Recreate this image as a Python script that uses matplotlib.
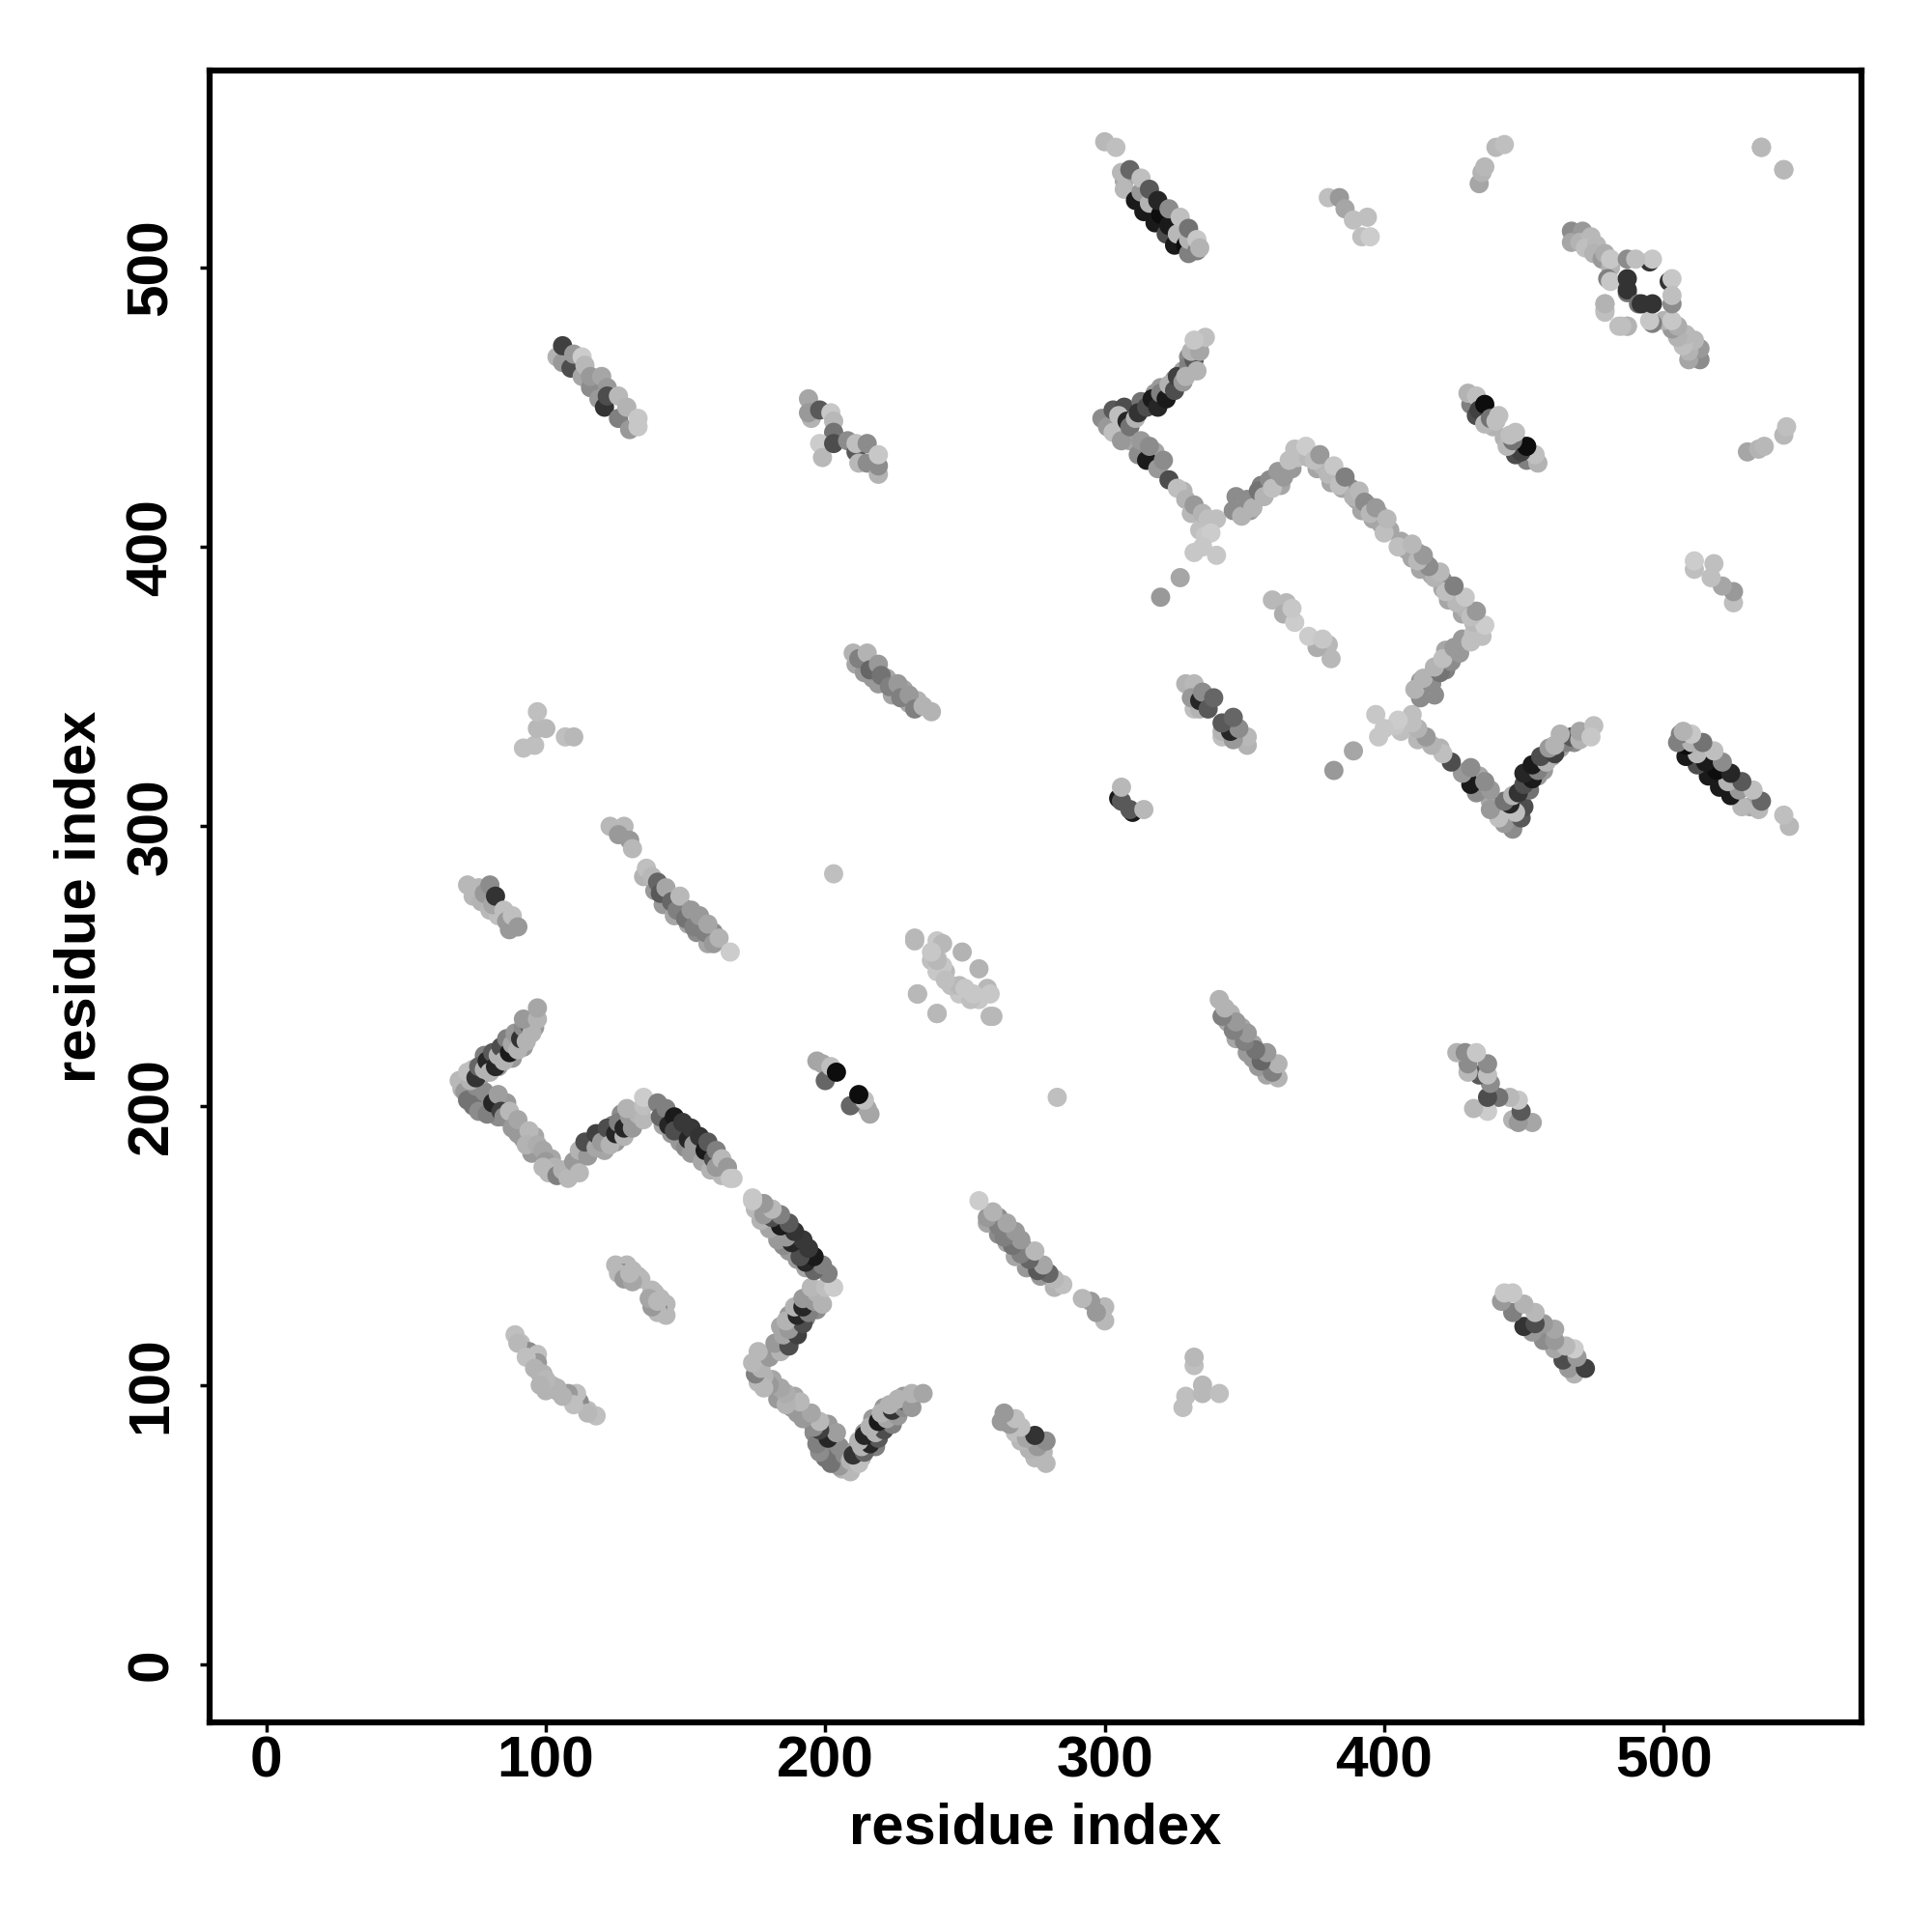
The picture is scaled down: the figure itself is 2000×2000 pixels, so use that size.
import matplotlib
matplotlib.use("Agg")
import matplotlib.pyplot as plt

# (residue i, residue j, grey level of the contact); i < j, each contact is also drawn as (j, i)
strand_a = [(70,206,.7),(75,203,.6),(77,202,.6),(80,200,.55),(83,196,.55),(86,201,.6),(90,190,.6),(96,189,.65),(95,183,.6),(102,181,.65),(69,209,.72),(71,205,.6),(72,202,.45),(74,200,.45),(75,207,.55),(76,198,.55),(78,205,.55),(79,197,.5),(81,201,.15),(83,204,.62),(84,198,.25),(85,196,.55),(87,198,.72),(88,192,.6),(90,195,.65),(92,188,.6),(94,191,.72),(93,186,.7),(97,186,.68),(99,184,.65),(100,180,.6),(103,178,.7),(101,176,.72),(99,178,.72)]
strand_b = [(74,213,.72),(77,211,.6),(80,216,.5),(83,214,.6),(85,220,.5),(88,217,.6),(90,224,.55),(92,221,.6),(94,226,.55),(96,228,.6),(73,209,.7),(78,218,.5),(72,212,.75),(75,210,.2),(76,214,.4),(78,213,.7),(79,216,.15),(80,212,.7),(81,219,.35),(82,214,.15),(83,218,.7),(84,221,.3),(85,216,.7),(86,224,.5),(87,219,.1),(88,222,.65),(89,226,.6),(90,220,.7),(91,224,.2),(92,228,.55),(93,223,.7),(94,229,.35),(95,226,.7),(92,231,.6),(97,231,.7),(97,235,.65)]
strand_c = [(109,178,.6),(116,184,.55),(119,188,.5),(124,193,.5),(127,191,.55),(121,184,.65),(125,187,.6),(132,194,.65),(127,197,.55),(104,175,.5),(106,177,.7),(108,174,.72),(110,180,.6),(112,176,.72),(112,184,.7),(115,182,.6),(114,187,.3),(118,185,.65),(118,190,.25),(120,187,.6),(122,192,.3),(123,186,.7),(125,190,.15),(126,194,.5),(128,189,.7),(128,192,.15),(130,196,.6),(131,192,.6),(129,199,.7),(133,197,.7),(135,195,.72),(135,200,.75),(135,203,.8)]
strand_d = [(142,193,.65),(145,190,.6),(148,187,.6),(150,185,.55),(152,183,.6),(155,183,.6),(156,180,.65),(159,177,.7),(163,175,.72),(140,201,.5),(141,196,.4),(143,199,.5),(144,193,.15),(146,196,.1),(146,191,.3),(149,194,.22),(151,188,.15),(152,192,.22),(153,186,.6),(155,189,.2),(157,184,.1),(158,187,.35),(160,181,.3),(161,184,.5),(161,178,.6),(163,181,.72),(165,178,.6),(166,174,.78),(167,174,.78)]
strand_e = [(104,468,.7),(106,466,.6),(109,464,.3),(113,461,.65),(116,457,.55),(119,453,.6),(121,450,.2),(126,446,.5),(130,442,.6),(106,472,.25),(110,469,.6),(113,468,.8),(114,465,.72),(116,461,.6),(120,461,.65),(122,457,.6),(122,454,.3),(126,454,.72),(129,450,.7),(133,446,.78),(133,443,.78)]
strand_f = [(194,453,.65),(195,446,.7),(194,448,.6),(198,449,.35),(202,448,.78),(203,445,.72),(203,441,.45),(198,437,.8),(199,432,.72),(203,437,.3),(208,438,.55),(211,434,.35),(211,437,.75),(215,437,.55),(212,430,.72),(215,430,.55),(219,426,.7),(219,429,.55),(219,433,.78)]
strand_g = [(211,358,.65),(214,355,.6),(217,353,.6),(219,351,.6),(222,353,.65),(224,347,.65),(228,349,.65),(230,344,.65),(233,345,.7),(210,362,.7),(212,360,.5),(215,362,.7),(216,356,.4),(219,358,.6),(220,354,.45),(223,350,.5),(226,351,.6),(227,346,.5),(230,347,.6),(232,342,.5),(235,343,.7),(238,341,.7)]
patch_h = [(92,328,.75),(96,329,.75),(97,335,.72),(97,341,.75),(100,335,.72),(107,332,.75),(110,332,.72)]
strand_i = [(135,282,.7),(139,277,.6),(142,272,.6),(144,275,.55),(146,268,.65),(149,271,.45),(151,265,.65),(153,268,.65),(154,262,.55),(156,265,.65),(158,258,.65),(160,262,.55),(123,300,.72),(128,300,.72),(126,297,.6),(130,295,.6),(131,292,.72),(136,285,.75),(138,282,.72),(140,280,.4),(141,276,.35),(143,278,.65),(145,273,.4),(147,270,.5),(148,275,.72),(150,267,.45),(152,270,.6),(153,264,.5),(155,268,.6),(157,262,.5),(158,265,.65),(160,258,.6),(162,260,.7),(166,255,.8)]
strand_j = [(74,275,.72),(77,273,.7),(80,270,.72),(83,268,.75),(87,263,.6),(72,279,.72),(76,278,.72),(78,276,.6),(80,279,.55),(81,272,.65),(82,275,.2),(85,270,.75),(86,266,.6),(88,268,.75),(90,264,.6)]
single_k = [(203,283,.75)]
patch_l = [(232,259,.72),(240,259,.78),(238,252,.75),(243,248,.72),(249,255,.7),(233,240,.72),(240,233,.72),(242,250,.78),(248,240,.78),(252,240,.72),(258,242,.72),(260,232,.72),(255,238,.78),(240,253,.78),(245,243,.75)]
strand_m = [(300,545,.72),(304,543,.75),(307,531,.65),(307,528,.72),(311,524,.1),(313,527,.6),(314,520,.1),(316,523,.7),(318,516,.1),(320,519,.05),(322,512,.3),(323,515,.1),(325,508,.1),(326,512,.72),(329,508,.05),(330,505,.5),(330,510,.7),(333,506,.5),(306,534,.72),(309,535,.4),(313,532,.75),(316,528,.35),(319,524,.15),(323,521,.55),(327,518,.75),(330,514,.45),(333,510,.78),(334,507,.7)]
strand_n = [(380,525,.75),(384,525,.6),(386,521,.65),(389,517,.75),(392,511,.75),(394,518,.75),(395,511,.8)]
patch_o = [(434,530,.65),(435,534,.7),(436,536,.72),(440,543,.72),(443,544,.75)]
pair_p = [(535,543,.72),(543,535,.72)]
pair_q = [(320,382,.6),(327,389,.65)]
strand_r = [(360,381,.72),(365,380,.72),(364,376,.68),(368,373,.8),(367,378,.78)]
strand_s = [(332,342,.75),(334,342,.7),(329,351,.7),(332,351,.72),(331,346,.6),(334,345,.15),(335,348,.55),(337,342,.35),(339,346,.4)]
pair_t = [(305,310,.1),(306,309,.35),(306,314,.72)]
strand_u = [(197,216,.65),(199,215,.65),(200,209,.4),(202,214,.75),(204,212,.05)]
strand_v = [(125,143,.72),(129,143,.72),(128,140,.5),(131,141,.72),(133,139,.72),(134,138,.72),(126,140,.72),(128,138,.6),(131,137,.65),(130,140,.72)]
strand_w = [(89,118,.75),(91,115,.75),(94,112,.55),(97,111,.75),(97,108,.6),(99,104,.7),(104,98,.7),(90,115,.72),(93,110,.75),(96,106,.7),(102,100,.72),(100,98,.7)]
strand_x = [(431,451,.5),(433,447,.3),(437,448,.7),(439,443,.7),(430,455,.7),(433,454,.75),(434,449,.25),(436,444,.72),(436,451,.05),(438,446,.45),(440,445,.75),(441,447,.75)]
cross_y = [(467,513,.55),(467,509,.65),(471,513,.6),(470,509,.7),(474,511,.72),(472,507,.75),(476,508,.72),(475,505,.7),(478,503,.6),(479,505,.68),(481,500,.7),(481,503,.78),(480,496,.5),(481,495,.78),(479,487,.7),(479,485,.75),(484,479,.75),(487,479,.7),(487,491,.45),(487,492,.2),(487,496,.2),(487,503,.55),(495,502,.2),(496,503,.78),(490,503,.75)]
strand_z1 = [(304,444,.65),(307,441,.6),(309,438,.65),(315,434,.6),(318,434,.65),(320,430,.6),(328,420,.7),(331,412,.72),(334,406,.75),(336,404,.78),(340,410,.75),(299,446,.55),(301,443,.6),(303,441,.75),(303,449,.35),(306,438,.6),(307,450,.3),(305,447,.75),(308,445,.15),(309,443,.45),(311,446,.7),(312,433,.55),(313,438,.6),(315,431,.1),(316,436,.55),(319,428,.6),(321,431,.55),(323,424,.3),(326,421,.75),(329,417,.7),(332,415,.6),(335,412,.7),(337,410,.75),(338,405,.8),(335,400,.78),(332,398,.78),(340,397,.78)]
strand_z2 = [(313,452,.45),(316,451,.5),(318,455,.6),(320,457,.6),(323,455,.6),(326,458,.65),(325,460,.6),(328,463,.65),(330,468,.55),(312,448,.2),(315,450,.3),(317,453,.1),(319,450,.15),(320,455,.5),(322,453,.1),(323,458,.7),(325,456,.3),(326,461,.25),(328,459,.6),(330,465,.5),(329,461,.7),(332,467,.35),(333,463,.7),(331,470,.7),(334,470,.65),(336,475,.75),(332,474,.78)]
strand_z3 = [(347,418,.55),(350,414,.65),(352,413,.6),(354,417,.65),(356,422,.5),(358,420,.7),(361,424,.65),(363,422,.65),(365,427,.7),(367,428,.6),(368,435,.75),(346,413,.55),(349,411,.7),(351,417,.55),(353,414,.7),(355,420,.45),(357,418,.7),(359,424,.55),(360,421,.75),(362,427,.6),(364,425,.6),(366,431,.75),(369,432,.75)]
strand_z4 = [(373,432,.72),(376,428,.65),(378,429,.7),(381,423,.65),(383,425,.5),(385,421,.65),(388,421,.55),(390,417,.65),(392,413,.65),(394,415,.65),(396,410,.65),(399,408,.65),(398,412,.65),(402,406,.65),(372,436,.8),(375,431,.75),(377,433,.6),(380,426,.72),(382,429,.78),(384,422,.75),(386,425,.5),(389,418,.7),(391,420,.72),(393,416,.55),(395,412,.72),(397,414,.6),(400,405,.75),(401,410,.72)]

clusters = [strand_a, strand_b, strand_c, strand_d, strand_e, strand_f, strand_g, patch_h, strand_i,
            strand_j, single_k, patch_l, strand_m, strand_n, patch_o, pair_p, pair_q, strand_r, strand_s,
            pair_t, strand_u, strand_v, strand_w, strand_x, cross_y, strand_z1, strand_z2, strand_z3, strand_z4]
tick_values = [0, 100, 200, 300, 400, 500]
axis_label = "residue index"

plt.rcParams["font.family"] = ["Liberation Sans", "DejaVu Sans"]
plt.rcParams["font.weight"] = "bold"
fig = plt.figure(figsize=(20, 20), dpi=100)
ax = fig.add_axes([217/2000, 1 - 1783/2000, (1927-217)/2000, (1783-73)/2000])
for pts in clusters:
    xs = [p[0] for p in pts] + [p[1] for p in pts]
    ys = [p[1] for p in pts] + [p[0] for p in pts]
    gs = [str(p[2]) for p in pts] * 2
    ax.scatter(xs, ys, c=gs, s=205, linewidths=0, zorder=3)
ax.set_xlim(-20.3, 570.8)
ax.set_ylim(-20.7, 570.5)
ax.set_xticks(tick_values)
ax.set_yticks(tick_values)
ax.tick_params(length=7, width=2.5, labelsize=43.5)
ax.tick_params(axis="x", pad=3)
ax.tick_params(axis="y", pad=16)
for t in ax.get_yticklabels():
    t.set_rotation(90)
    t.set_va("center")
for s in ax.spines.values():
    s.set_linewidth(4.5)
ax.set_xlabel(axis_label, fontsize=43, fontweight="bold", labelpad=10)
ax.set_ylabel(axis_label, fontsize=43, fontweight="bold", labelpad=14)
fig.savefig("out.png", dpi=100, facecolor="white")
